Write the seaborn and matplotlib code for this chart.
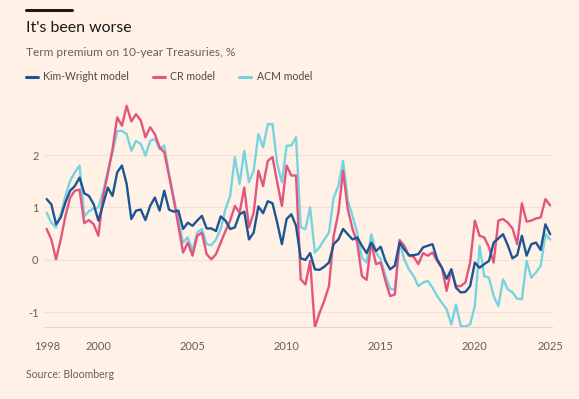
import numpy as np
import pandas as pd
import matplotlib.pyplot as plt
import seaborn as sns

# Quarterly term premium estimates, %
quarters = np.arange(1997.25, 2024.01, 0.25)

kim_wright = [
    1.16, 1.06, 0.68, 0.81, 1.10, 1.32, 1.41, 1.57, 1.27, 1.22, 1.06, 0.75, 1.06, 1.38,
    1.22, 1.67, 1.80, 1.45, 0.78, 0.94, 0.96, 0.76, 1.03, 1.19, 0.94, 1.32, 0.96, 0.92,
    0.94, 0.59, 0.71, 0.65, 0.75, 0.84, 0.60, 0.60, 0.55, 0.83, 0.75, 0.59, 0.62, 0.87,
    0.92, 0.39, 0.52, 1.02, 0.89, 1.12, 1.08, 0.71, 0.30, 0.78, 0.87, 0.65, 0.03, 0.00,
    0.13, -0.18, -0.19, -0.13, -0.05, 0.30, 0.39, 0.59, 0.49, 0.39, 0.43, 0.27, 0.13, 0.33,
    0.17, 0.25, -0.02, -0.18, -0.11, 0.33, 0.20, 0.09, 0.09, 0.11, 0.24, 0.27, 0.30, 0.01,
    -0.15, -0.36, -0.18, -0.53, -0.62, -0.61, -0.50, -0.05, -0.15, -0.08, -0.02, 0.33, 0.41, 0.49,
    0.28, 0.03, 0.09, 0.46, 0.08, 0.30, 0.33, 0.19, 0.68, 0.49,
]

cr_model = [
    0.59, 0.39, 0.01, 0.39, 0.84, 1.19, 1.32, 1.34, 0.70, 0.76, 0.68, 0.46, 1.22, 1.64,
    2.11, 2.72, 2.56, 2.94, 2.64, 2.78, 2.66, 2.34, 2.53, 2.40, 2.15, 2.05, 1.61, 1.15,
    0.65, 0.14, 0.33, 0.08, 0.46, 0.52, 0.11, 0.01, 0.11, 0.33, 0.55, 0.75, 1.03, 0.90,
    1.38, 0.62, 0.90, 1.70, 1.41, 1.89, 1.96, 1.48, 1.03, 1.80, 1.61, 1.61, -0.37, -0.47,
    -0.02, -1.29, -1.01, -0.78, -0.50, 0.46, 0.90, 1.70, 0.97, 0.59, 0.33, -0.31, -0.38, 0.33,
    -0.08, -0.05, -0.40, -0.69, -0.66, 0.38, 0.27, 0.08, 0.06, -0.08, 0.13, 0.08, 0.14, -0.02,
    -0.15, -0.59, -0.18, -0.50, -0.50, -0.43, -0.05, 0.75, 0.46, 0.43, 0.24, -0.05, 0.75, 0.78,
    0.71, 0.60, 0.30, 1.08, 0.73, 0.75, 0.79, 0.81, 1.16, 1.04,
]

acm_model = [
    0.90, 0.71, 0.62, 0.87, 1.22, 1.51, 1.67, 1.80, 0.83, 0.93, 0.98, 1.00, 1.30, 1.70,
    2.05, 2.46, 2.46, 2.40, 2.08, 2.27, 2.21, 1.99, 2.27, 2.31, 2.11, 2.18, 1.65, 1.20,
    0.75, 0.33, 0.43, 0.17, 0.52, 0.59, 0.30, 0.28, 0.39, 0.59, 0.97, 1.22, 1.96, 1.45,
    2.08, 1.48, 1.70, 2.40, 2.15, 2.59, 2.59, 1.83, 1.48, 2.18, 2.18, 2.34, 0.62, 0.59,
    1.00, 0.14, 0.24, 0.39, 0.52, 1.19, 1.41, 1.89, 1.13, 0.84, 0.52, 0.04, -0.05, 0.49,
    0.14, 0.01, -0.31, -0.55, -0.57, 0.33, 0.01, -0.18, -0.31, -0.50, -0.43, -0.40, -0.53, -0.69,
    -0.82, -0.94, -1.23, -0.85, -1.26, -1.27, -1.23, -0.88, 0.27, -0.31, -0.34, -0.69, -0.88, -0.37,
    -0.56, -0.62, -0.74, -0.75, -0.02, -0.34, -0.24, -0.11, 0.49, 0.39,
]

series_names = ['Kim-Wright model', 'CR model', 'ACM model']
colors = {'Kim-Wright model': '#1D5592', 'CR model': '#E2557F', 'ACM model': '#78D3E0'}
x_labels = ['1998', '2000', '2005', '2010', '2015', '2020', '2025']
y_ticks = [-1, 0, 1, 2]

df = pd.DataFrame({
    'date': np.tile(quarters, 3),
    'value': kim_wright + cr_model + acm_model,
    'model': np.repeat(series_names, len(quarters)),
})

bg = '#FFF1E5'
sns.set_style('white')
plt.rcParams['font.family'] = ['Lato', 'DejaVu Sans']
plt.rcParams['axes.unicode_minus'] = False

fig = plt.figure(figsize=(5.79, 3.99), dpi=100, facecolor=bg)
ax = fig.add_axes([44 / 579, 1 - 327 / 399, 508 / 579, 227 / 399], facecolor=bg)

# draw cyan first, blue on top
for name in ['ACM model', 'CR model', 'Kim-Wright model']:
    sns.lineplot(data=df[df['model'] == name], x='date', y='value', color=colors[name],
                 linewidth=1.7, label=name, ax=ax)

ax.set_xlim(quarters[0] - 0.14, quarters[-1] + 0.1)
ax.set_ylim(-1.28, 3.05)
ax.set_xlabel('')
ax.set_ylabel('')

# axes styling
for s in ['top', 'right', 'left']:
    ax.spines[s].set_visible(False)
ax.spines['bottom'].set_color('#E3D6CB')
ax.spines['bottom'].set_linewidth(0.8)

ax.set_yticks(y_ticks)
ax.set_yticklabels([str(t) for t in y_ticks])
ax.tick_params(axis='y', length=0, pad=4, labelsize=8, labelcolor='#66605C')
for t in y_ticks:
    ax.axhline(t, color='#EFE2D7', linewidth=0.8, zorder=0)

major_pos = [quarters[0], 2000, 2005, 2010, 2015, 2020, quarters[-1]]
ax.set_xticks(major_pos)
ax.set_xticklabels(x_labels)
ax.set_xticks([y for y in range(1998, 2024) if y % 5 != 0], minor=True)
ax.tick_params(axis='x', which='both', length=6, width=0.8, color='#E3D6CB',
               labelsize=8, labelcolor='#66605C', pad=4)

# legend in chart order
handles, labels = ax.get_legend_handles_labels()
order = [labels.index(n) for n in series_names]
ax.get_legend().remove()
leg = fig.legend([handles[i] for i in order], series_names, loc='center left',
                 bbox_to_anchor=(16 / 579, 1 - 77 / 399), ncol=3, frameon=False,
                 handlelength=1.15, handletextpad=0.55, columnspacing=2.2,
                 fontsize=7.6, labelcolor='#4D4845')
for h in leg.legend_handles:
    h.set_linewidth(2.2)

# header and footer
fig.add_artist(plt.Line2D([26 / 579, 72 / 579], [1 - 10 / 399, 1 - 10 / 399],
                          color='#1A1A1A', linewidth=2.2))
fig.text(26 / 579, 1 - 28 / 399, "It's been worse", fontsize=11.4, color='#1A1A1A',
         va='center', ha='left')
fig.text(26 / 579, 1 - 53 / 399, 'Term premium on 10-year Treasuries, %', fontsize=8.55,
         color='#66605C', va='center', ha='left')
fig.text(26 / 579, 1 - 375 / 399, 'Source: Bloomberg', fontsize=7.6, color='#66605C',
         va='center', ha='left')

fig.savefig('out.png', dpi=100, facecolor=bg)
plt.close(fig)
